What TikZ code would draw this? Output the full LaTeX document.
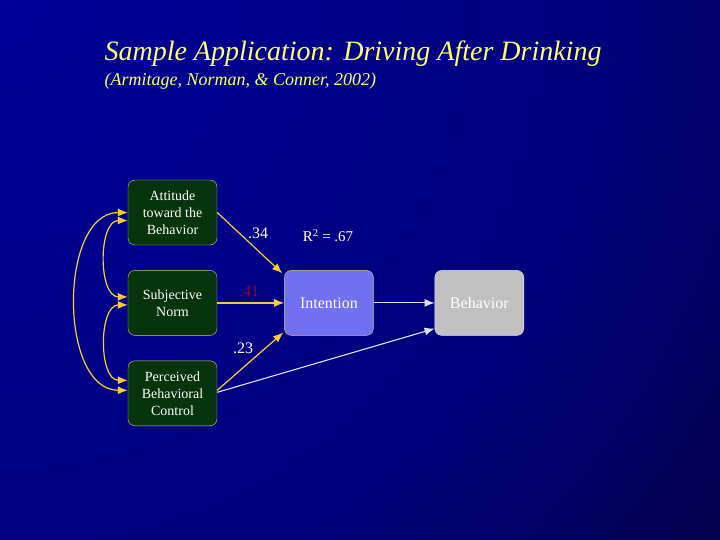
\documentclass[tikz,border=0pt]{standalone}
\usepackage{fontspec}
\setmainfont{Liberation Serif}
\usetikzlibrary{positioning,arrows.meta}

\definecolor{bgbright}{RGB}{0,0,154}
\definecolor{bgmid}{RGB}{0,0,122}
\definecolor{bgdark}{RGB}{2,0,62}
\definecolor{titleyellow}{RGB}{255,255,110}
\definecolor{boxgreen}{RGB}{6,52,12}
\definecolor{boxline}{RGB}{222,196,120}
\definecolor{arrowyellow}{RGB}{255,204,51}
\definecolor{intfill}{RGB}{112,112,240}
\definecolor{behfill}{RGB}{192,192,192}
\definecolor{palelilac}{RGB}{226,226,255}
\definecolor{coefred}{RGB}{150,0,50}

\pgfdeclareradialshading{slidebg}{\pgfpoint{0bp}{0bp}}{color(0bp)=(bgbright);
  color(14bp)=(bgmid); color(22bp)=(bgdark); color(50bp)=(bgdark)}

\begin{document}
\begin{tikzpicture}[x=1pt,y=-1pt,>={Latex[length=10pt,width=8pt]},
    box/.style={draw=boxline,fill=boxgreen,rounded corners=7pt,
      minimum width=89pt,minimum height=65pt,inner sep=2pt,
      text=white,align=center,font=\rmfamily\fontsize{14}{17}\selectfont},
    yellowpath/.style={draw=arrowyellow,line width=1.2pt},
    whitepath/.style={draw=palelilac,line width=1.1pt},
    coef/.style={text=white,font=\rmfamily\fontsize{16}{18}\selectfont}]

        % draw the background
        \useasboundingbox (0,0) rectangle (720,540);
        \begin{scope}
          \clip (0,0) rectangle (720,540);
          \shade[shading=slidebg] (0,0) circle (1100);
        \end{scope}

        % draw the title
        \node[anchor=west,text=titleyellow,font=\rmfamily\fontsize{28}{30}\selectfont\itshape]
          (title) at (101,54) {Sample Application: Driving After Drinking};
        \node[anchor=west,text=titleyellow,font=\rmfamily\fontsize{18}{20}\selectfont\itshape]
          (source) at (101,81) {(Armitage, Norman, \& Conner, 2002)};

        % draw the predictors
        \node[box] (att) at (172.5,212.5) {Attitude\\toward the\\Behavior};
        \node[box,below=25pt of att] (norm) {Subjective\\Norm};
        \node[box,below=25pt of norm] (pbc) {Perceived\\Behavioral\\Control};

        % draw intention and behavior
        \node[box,fill=intfill,right=67pt of norm,font=\rmfamily\fontsize{16}{18}\selectfont]
          (int) {Intention};
        \node[box,fill=behfill,draw=palelilac,right=61pt of int,font=\rmfamily\fontsize{16}{18}\selectfont]
          (beh) {Behavior};

        % draw the correlations between predictors
        \draw[<->,yellowpath] ([yshift=-8pt]att.west) to[out=180,in=180] ([yshift=6pt]norm.west);
        \draw[<->,yellowpath] ([yshift=-2pt]norm.west) to[out=180,in=180] ([yshift=13pt]pbc.west);
        \draw[<->,yellowpath] (att.west) to[out=180,in=180] ([yshift=3pt]pbc.west);

        % draw the paths
        \draw[->,yellowpath] (att.east) -- ([xshift=-2pt,yshift=-3pt]int.north west);
        \draw[->,yellowpath] (norm.east) -- (int.west);
        \draw[->,yellowpath] ([yshift=3pt]pbc.east) -- ([xshift=-1pt,yshift=3pt]int.south west);
        \draw[->,whitepath] (int.east) -- (beh.west);
        \draw[->,whitepath] ([yshift=1pt]pbc.east) -- ([yshift=7pt]beh.south west);

        % draw the coefficients
        \node[coef] (c34) at (258,233) {.34};
        \node[coef,text=coefred] (c41) at (249,291) {.41};
        \node[coef] (c23) at (243,348) {.23};
        \node[coef,font=\rmfamily\fontsize{15}{17}\selectfont] (rsq) at (328,236) {R\textsuperscript{2} = .67};

  \end{tikzpicture}
\end{document}
